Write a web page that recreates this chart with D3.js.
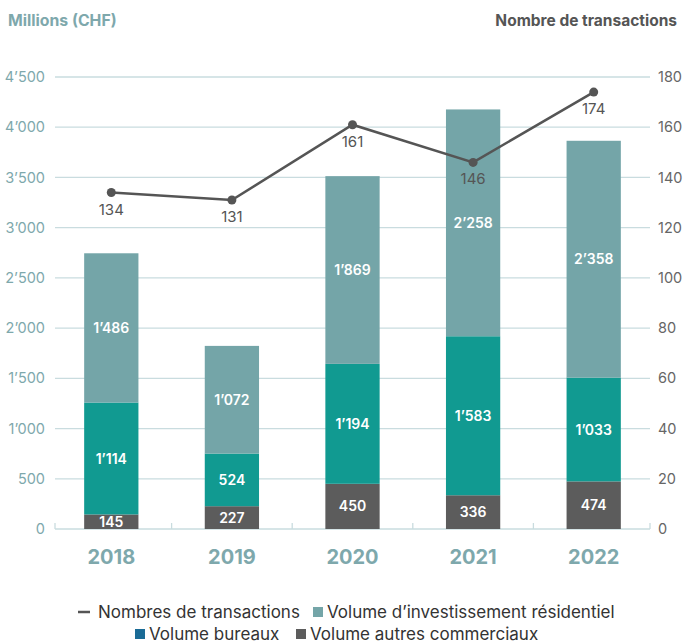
<!DOCTYPE html>
<html><head><meta charset="utf-8">
<script src="https://cdn.jsdelivr.net/npm/d3@7"></script>
<style>body{margin:0;background:#fff;font-family:Inter,"Noto Sans",sans-serif;}</style>
</head><body>
<svg id="c" width="684" height="643"></svg>
<script>
const years = ["2018","2019","2020","2021","2022"];
const autres = [145,227,450,336,474];
const bureaux = [1114,524,1194,1583,1033];
const residentiel = [1486,1072,1869,2258,2358];
const transactions = [134,131,161,146,174];
const leftTicks = [0,500,1000,1500,2000,2500,3000,3500,4000,4500];
const rightTicks = [0,20,40,60,80,100,120,140,160,180];

const colRes = "#74a5a8", colBur = "#119a91", colAut = "#5c5c5c", colBurLeg = "#1a6b96";
const svg = d3.select("#c");
const x0 = 55, x1 = 650, yTop = 77, yBot = 529;
const x = d3.scaleBand().domain(years).range([51, 654]).paddingInner(0.55).paddingOuter(0.275);
const y = d3.scaleLinear().domain([0,4500]).range([yBot,yTop]);
const y2 = d3.scaleLinear().domain([0,180]).range([yBot,yTop]);
const fmt = v => { const s = String(v); return s.length>3 ? s.slice(0,-3)+"’"+s.slice(-3) : s; };

svg.append("g").selectAll("line").data(leftTicks.filter(d=>d>0)).join("line")
  .attr("x1",x0).attr("x2",x1).attr("y1",d=>y(d)).attr("y2",d=>y(d))
  .attr("stroke","#c9dcdf").attr("stroke-width",1.3);
svg.append("line").attr("x1",x0).attr("x2",x1).attr("y1",yBot).attr("y2",yBot).attr("stroke","#c9dcdf").attr("stroke-width",1.3);
const bounds = [x0].concat(years.slice(1).map(d=>x(d)-(x.step()-x.bandwidth())/2)).concat([x1]);
svg.append("g").selectAll("line").data(bounds).join("line")
  .attr("x1",d=>d).attr("x2",d=>d).attr("y1",yBot-6).attr("y2",yBot).attr("stroke","#c9dcdf").attr("stroke-width",1.3);

svg.append("g").selectAll("text").data(leftTicks).join("text")
  .attr("x",45).attr("y",d=>y(d)).attr("dy","0.35em").attr("text-anchor","end")
  .attr("fill","#7ea8ac").attr("font-size",14.5).text(fmt);
svg.append("g").selectAll("text").data(rightTicks).join("text")
  .attr("x",658).attr("y",d=>y2(d)).attr("dy","0.35em").attr("text-anchor","start")
  .attr("fill","#666").attr("font-size",14.5).text(d=>d);

svg.append("text").attr("x",8).attr("y",26).attr("fill","#7ea8ac").attr("font-size",15.8).attr("font-weight",700).text("Millions (CHF)");
svg.append("text").attr("x",677).attr("y",26).attr("text-anchor","end").attr("fill","#555").attr("font-size",15.5).attr("font-weight",700).text("Nombre de transactions");

const series = [
  {vals:autres,col:colAut},
  {vals:bureaux,col:colBur},
  {vals:residentiel,col:colRes}
];
years.forEach((yr,i)=>{
  let base = 0;
  series.forEach(s=>{
    const v = s.vals[i];
    svg.append("rect").attr("x",x(yr)).attr("width",x.bandwidth())
      .attr("y",y(base+v)).attr("height",y(base)-y(base+v)).attr("fill",s.col);
    svg.append("text").attr("x",x(yr)+x.bandwidth()/2).attr("y",y(base+v/2)).attr("dy","0.36em")
      .attr("text-anchor","middle").attr("fill","#fff").attr("font-size",14).attr("font-weight",600).text(fmt(v));
    base += v;
  });
});

svg.append("g").selectAll("text").data(years).join("text")
  .attr("x",d=>x(d)+x.bandwidth()/2).attr("y",564).attr("text-anchor","middle")
  .attr("fill","#7ea8ac").attr("font-size",20).attr("font-weight",700).text(d=>d);

const cx = d=>x(d)+x.bandwidth()/2;
svg.append("path").datum(transactions)
  .attr("d",d3.line().x((d,i)=>cx(years[i])).y(d=>y2(d)))
  .attr("fill","none").attr("stroke","#555").attr("stroke-width",2.5);
svg.append("g").selectAll("circle").data(transactions).join("circle")
  .attr("cx",(d,i)=>cx(years[i])).attr("cy",d=>y2(d)).attr("r",4.5).attr("fill","#555");
svg.append("g").selectAll("text").data(transactions).join("text")
  .attr("x",(d,i)=>cx(years[i])).attr("y",d=>y2(d)+22).attr("text-anchor","middle")
  .attr("fill","#555").attr("font-size",15).text(d=>d);

const leg = svg.append("g").attr("font-size",17).attr("fill","#333");
leg.append("line").attr("x1",78).attr("x2",90).attr("y1",612).attr("y2",612).attr("stroke","#555").attr("stroke-width",2.5);
leg.append("text").attr("x",98).attr("y",612).attr("dy","0.35em").text("Nombres de transactions");
leg.append("rect").attr("x",313).attr("y",607).attr("width",10).attr("height",10).attr("fill",colRes);
leg.append("text").attr("x",327).attr("y",612).attr("dy","0.35em").text("Volume d’investissement résidentiel");
leg.append("rect").attr("x",135).attr("y",629).attr("width",10).attr("height",10).attr("fill",colBurLeg);
leg.append("text").attr("x",149).attr("y",634).attr("dy","0.35em").text("Volume bureaux");
leg.append("rect").attr("x",296).attr("y",629).attr("width",10).attr("height",10).attr("fill",colAut);
leg.append("text").attr("x",310).attr("y",634).attr("dy","0.35em").text("Volume autres commerciaux");
</script>
</body></html>
